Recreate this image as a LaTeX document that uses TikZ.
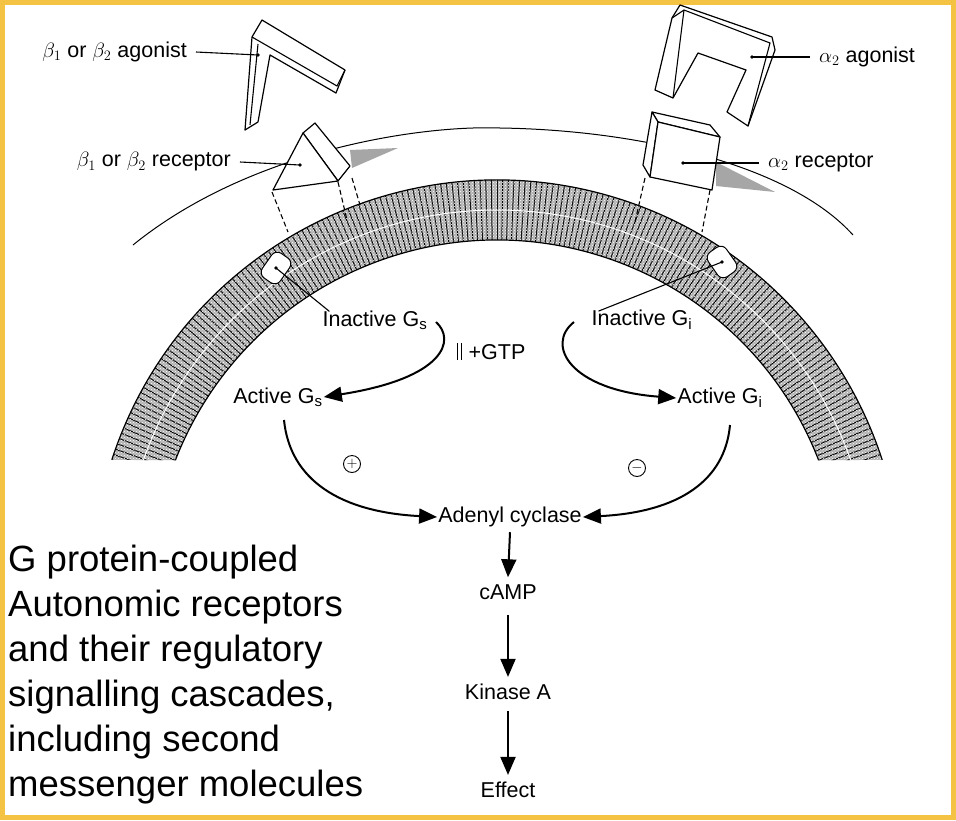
\documentclass[tikz,border=0pt]{standalone}
\usepackage{fontspec}
\setmainfont{Liberation Sans}
\usetikzlibrary{arrows.meta,patterns,calc}
\definecolor{frame}{HTML}{F5C343}
\begin{document}
\begin{tikzpicture}[x=1pt,y=-1pt,
  lbl/.style={font=\fontsize{21.5}{23}\selectfont,inner sep=1pt},
  captxt/.style={font=\fontsize{36.5}{45}\selectfont,align=left,anchor=north west,inner sep=0pt},
  lead/.style={line width=1.1pt},
  flow/.style={line width=2pt,-{Triangle[length=18pt,width=15pt]}},
  shp/.style={line width=1.2pt,fill=white,line join=round},
  dsh/.style={line width=1.1pt,dash pattern=on 5pt off 3pt}]
\fill[white] (0,0) rectangle (956,820);
\draw[frame,line width=5pt] (2.5,2.5) rectangle (953.5,817.5);
% cell surface line
\draw[line width=1pt] (133,245) .. controls (250,150) and (420,125) .. (500,128)
   .. controls (640,130) and (790,165) .. (853,235);
% membrane band
\coordinate (cc) at (497,585);
\begin{scope}
\path[clip] (cc) ++(198:405) arc (198:342:405) -- ($(cc)+(338.8:345)$) arc (338.8:201.2:345) -- cycle;
\fill[gray!60] (0,0) rectangle (956,820);
\foreach \a in {198,198.8,...,342} \draw[line width=1pt] (cc) ++(\a:343) -- ++(\a:64);
\fill[pattern=crosshatch dots,pattern color=white] (0,0) rectangle (956,820);
\draw[line width=1pt,white] (cc) circle (375);
\end{scope}
\draw[line width=1.2pt] (cc) ++(198:405) arc (198:342:405);
\draw[line width=1.2pt] (cc) ++(338.8:345) arc (338.8:201.2:345);
% G protein holes
\node[draw,line width=1pt,fill=white,rounded corners=7pt,minimum width=22pt,minimum height=30pt,rotate=-35] (hs) at (276,268) {};
\node[draw,line width=1pt,fill=white,rounded corners=7pt,minimum width=22pt,minimum height=30pt,rotate=35] (hi) at (722,262) {};
% shaded wedges
\fill[gray!70] (350,150) -- (398,148) -- (352,168) -- cycle;
\fill[gray!70] (716,162) -- (775,192) -- (716,186) -- cycle;
% dashed lines
\draw[dsh] (272,192) -- (288,232);
\draw[dsh] (338,182) -- (347,220);
\draw[dsh] (352,178) -- (360,205);
\draw[dsh] (645,178) -- (635,222);
\draw[dsh] (710,190) -- (702,232);
% left receptor (triangular prism)
\draw[shp] (303,133) -- (315,123) -- (350,166) -- (338,181) -- cycle;
\draw[shp] (273,190) -- (303,133) -- (338,181) -- cycle;
\coordinate (lrec) at (300,165);
% left agonist (L)
\draw[shp] (262,20) -- (345,70) -- (336,93) -- (270,55) -- (258,122) -- (245,130) -- (252,37) -- cycle;
\draw[line width=1.1pt] (252,37) -- (337,86) -- (345,70);
\draw[line width=1.1pt] (258,44) -- (250,125);
\coordinate (lago) at (258,55);
% right agonist (U)
\draw[shp] (680,5) -- (772,37) -- (775,50) -- (748,126) -- (727,112) -- (746,70) -- (698,53) -- (673,98) -- (655,90) -- (672,18) -- cycle;
\draw[line width=1.1pt] (672,18) -- (684,10) -- (770,43) -- (748,126);
\draw[line width=1.1pt] (673,98) -- (684,10);
\coordinate (rago) at (752,57);
% right receptor (cube)
\draw[shp] (652,112) -- (710,125) -- (720,137) -- (658,122) -- cycle;
\draw[shp] (652,112) -- (658,122) -- (650,177) -- (643,165) -- cycle;
\draw[shp] (658,122) -- (720,137) -- (712,190) -- (650,177) -- cycle;
\coordinate (rrec) at (683,163);
% labels
\node[lbl,anchor=east] (tla) at (188,52) {$\beta_1$ or $\beta_2$ agonist};
\node[lbl,anchor=east] (tlr) at (232,162) {$\beta_1$ or $\beta_2$ receptor};
\node[lbl,anchor=west] (tra) at (818,57) {$\alpha_2$ agonist};
\node[lbl,anchor=west] (trr) at (767,163) {$\alpha_2$ receptor};
\draw[lead] (tla.east) ++(8,0) -- (lago);
\fill (lago) circle (1.8);
\draw[lead] (tlr.east) ++(8,0) -- (lrec);
\fill (lrec) circle (1.8);
\draw[lead] (tra.west) ++(-8,0) -- (rago);
\fill (rago) circle (1.8);
\draw[lead] (trr.west) ++(-8,0) -- (rrec);
\fill (rrec) circle (1.8);
% G protein labels
\node[lbl] (igs) at (375,320) {Inactive G$_{\mathrm{s}}$};
\node[lbl] (igi) at (642,320) {Inactive G$_{\mathrm{i}}$};
\draw[lead] (hs.center) -- ([xshift=8pt,yshift=-2pt]igs.north west);
\fill (hs.center) circle (1.8);
\draw[lead] (hi.center) -- ([xshift=8pt,yshift=-2pt]igi.north west);
\fill (hi.center) circle (1.8);
\node[lbl] (gtp) at (497,352) {+GTP};
\node[lbl] (ags) at (278,397) {Active G$_{\mathrm{s}}$};
\node[lbl] (agi) at (720,398) {Active G$_{\mathrm{i}}$};
\draw[flow] (436,322) .. controls (456,340) and (445,378) .. (ags.east);
\draw[line width=1pt] (457,343) -- (457,360);
\draw[line width=1pt] (461,343) -- (461,360);
\draw[flow] (574,322) .. controls (545,345) and (570,390) .. (agi.west);
\node[lbl] (ac) at (510,517) {Adenyl cyclase};
\draw[flow] (284,420) .. controls (290,480) and (340,512) .. (ac.west);
\draw[flow] (730,425) .. controls (725,480) and (680,512) .. (ac.east);
\node[draw,circle,line width=0.9pt,inner sep=0pt,minimum size=17pt,font=\fontsize{15}{15}\selectfont] (plus) at (352,464) {$+$};
\node[draw,circle,line width=0.9pt,inner sep=0pt,minimum size=17pt,font=\fontsize{15}{15}\selectfont] (minus) at (637,468) {$-$};
\node[lbl] (camp) at (508,592) {cAMP};
\node[lbl] (kin) at (508,692) {Kinase A};
\node[lbl] (eff) at (508,790) {Effect};
\tikzset{down/.style={line width=2pt,-{Triangle[length=18pt,width=15pt]}}}
\draw[down] ([yshift=-4pt]ac.south) -- ([yshift=6pt]camp.north);
\draw[down] ([yshift=-14pt]camp.south) -- ([yshift=6pt]kin.north);
\draw[down] ([yshift=-10pt]kin.south) -- ([yshift=6pt]eff.north);
% caption
\node[captxt] (capt) at (8,545) {G protein-coupled\\Autonomic receptors\\and their regulatory\\signalling cascades,\\including second\\messenger molecules};
\end{tikzpicture}
\end{document}
